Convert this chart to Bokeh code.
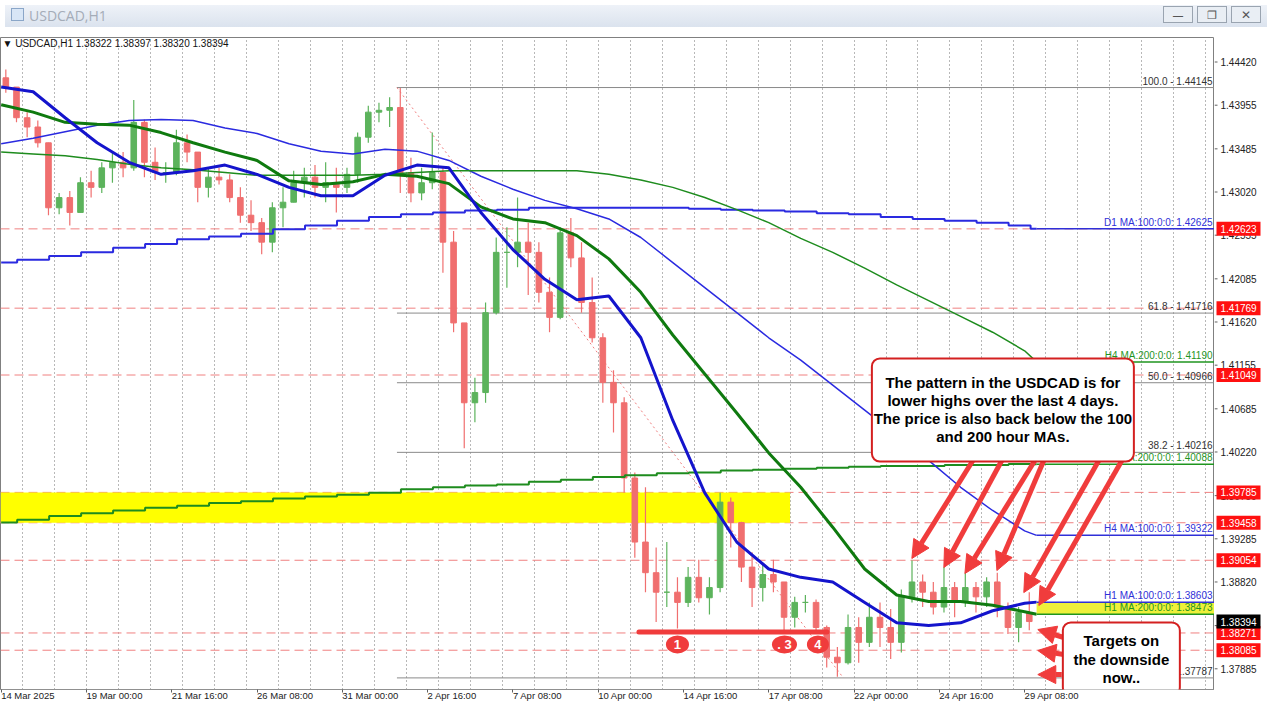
from bokeh.plotting import figure
from bokeh.models import (Range1d, FixedTicker, Span, BoxAnnotation,
                          Label, Arrow, NormalHead, Div, ColumnDataSource)
from bokeh.layouts import column, row
from bokeh.core.properties import value
from bokeh.embed import file_html
from bokeh.resources import INLINE

FONT = "Liberation Sans"

# ---------------- data (USDCAD H1, read in 8-hour blocks) ----------------
BLOCK = 8
first_open = 1.4425
high = [1.4434, 1.4415, 1.4388, 1.4379, 1.4355, 1.4301, 1.4303, 1.4318, 1.4325, 1.4334,
        1.4345, 1.4345, 1.4401, 1.4380, 1.4350, 1.4334, 1.4369, 1.4364, 1.4345, 1.4328,
        1.4328, 1.4321, 1.4307, 1.4293, 1.4274, 1.4291, 1.4307, 1.4325, 1.4328, 1.4331,
        1.4334, 1.4328, 1.4328, 1.4366, 1.4395, 1.4398, 1.4404, 1.4414, 1.4339, 1.4328,
        1.4366, 1.4328, 1.4260, 1.4161, 1.4102, 1.4183, 1.4253, 1.4264, 1.4296, 1.4269,
        1.4248, 1.4210, 1.4264, 1.4274, 1.4248, 1.4210, 1.4150, 1.4110, 1.4081, 1.4000,
        1.3984, 1.3919, 1.3925, 1.3887, 1.3898, 1.3906, 1.3887, 1.3978, 1.3973, 1.3947,
        1.3914, 1.3901, 1.3906, 1.3876, 1.3866, 1.3868, 1.3863, 1.3835, 1.3812, 1.3847,
        1.3844, 1.3860, 1.3860, 1.3853, 1.3874, 1.3905, 1.3890, 1.3882, 1.3898, 1.3882,
        1.3892, 1.3882, 1.3887, 1.3892, 1.3860, 1.3855, 1.3871]
low = [1.4409, 1.4377, 1.4361, 1.4350, 1.4277, 1.4278, 1.4266, 1.4280, 1.4296, 1.4301,
       1.4312, 1.4318, 1.4325, 1.4318, 1.4315, 1.4312, 1.4320, 1.4334, 1.4291, 1.4296,
       1.4310, 1.4291, 1.4269, 1.4260, 1.4235, 1.4237, 1.4264, 1.4291, 1.4296, 1.4296,
       1.4291, 1.4280, 1.4301, 1.4312, 1.4355, 1.4377, 1.4372, 1.4301, 1.4291, 1.4293,
       1.4305, 1.4215, 1.4151, 1.4026, 1.4054, 1.4075, 1.4170, 1.4199, 1.4221, 1.4191,
       1.4183, 1.4151, 1.4165, 1.4221, 1.4172, 1.4140, 1.4075, 1.4043, 1.3978, 1.3908,
       1.3871, 1.3839, 1.3855, 1.3832, 1.3855, 1.3860, 1.3847, 1.3871, 1.3919, 1.3882,
       1.3855, 1.3861, 1.3871, 1.3829, 1.3833, 1.3849, 1.3828, 1.3790, 1.3780, 1.3793,
       1.3795, 1.3812, 1.3812, 1.3799, 1.3806, 1.3860, 1.3855, 1.3847, 1.3849, 1.3844,
       1.3855, 1.3849, 1.3855, 1.3844, 1.3826, 1.3817, 1.3830]
close = [1.4415, 1.4382, 1.4372, 1.4355, 1.4285, 1.4296, 1.4280, 1.4312, 1.4307, 1.4328,
         1.4334, 1.4328, 1.4377, 1.4334, 1.4323, 1.4323, 1.4355, 1.4345, 1.4307, 1.4318,
         1.4315, 1.4296, 1.4277, 1.4269, 1.4248, 1.4285, 1.4291, 1.4312, 1.4318, 1.4307,
         1.4312, 1.4307, 1.4321, 1.4361, 1.4388, 1.4390, 1.4393, 1.4323, 1.4301, 1.4312,
         1.4323, 1.4248, 1.4161, 1.4075, 1.4086, 1.4172, 1.4237, 1.4237, 1.4248, 1.4237,
         1.4194, 1.4167, 1.4258, 1.4231, 1.4183, 1.4145, 1.4097, 1.4075, 1.3994, 1.3925,
         1.3892, 1.3871, 1.3871, 1.3860, 1.3887, 1.3865, 1.3876, 1.3968, 1.3946, 1.3898,
         1.3876, 1.3890, 1.3882, 1.3844, 1.3860, 1.3860, 1.3833, 1.3801, 1.3795, 1.3833,
         1.3817, 1.3844, 1.3833, 1.3817, 1.3866, 1.3882, 1.3871, 1.3855, 1.3876, 1.3860,
         1.3876, 1.3866, 1.3882, 1.3855, 1.3833, 1.3849, 1.38394]

# moving averages sampled every 24 bars (+ last bar)
ma_bars = [24 * j for j in range(33)] + [777]
ma_h1_100 = [1.4415, 1.4410, 1.4382, 1.4355, 1.4334, 1.4321, 1.4325, 1.4331, 1.4321, 1.4307,
             1.4298, 1.4298, 1.4320, 1.4331, 1.4328, 1.4280, 1.4240, 1.4208, 1.4186, 1.4190,
             1.4145, 1.4056, 1.3978, 1.3925, 1.3896, 1.3887, 1.3882, 1.3860, 1.3838, 1.3835,
             1.3838, 1.3851, 1.3859, 1.38603]
ma_h1_200 = [1.4396, 1.4388, 1.4377, 1.4375, 1.4374, 1.4366, 1.4355, 1.4345, 1.4336, 1.4314,
             1.4310, 1.4313, 1.4321, 1.4319, 1.4311, 1.4286, 1.4273, 1.4269, 1.4255, 1.4230,
             1.4194, 1.4148, 1.4106, 1.4064, 1.4021, 1.3984, 1.3941, 1.3896, 1.3868, 1.3861,
             1.3861, 1.3857, 1.3850, 1.38473]
ma_h4_100 = [1.4354, 1.4360, 1.4367, 1.4374, 1.4379, 1.4380, 1.4379, 1.4371, 1.4365, 1.4354,
             1.4346, 1.4343, 1.4348, 1.4346, 1.4336, 1.4319, 1.4305, 1.4293, 1.4284, 1.4273,
             1.4253, 1.4226, 1.4199, 1.4172, 1.4145, 1.4121, 1.4094, 1.4067, 1.4040, 1.4013,
             1.3984, 1.3959, 1.3937, 1.39322]
ma_h4_200 = [1.4345, 1.4343, 1.4341, 1.4337, 1.4332, 1.4328, 1.4326, 1.4323, 1.4320, 1.4320,
             1.4320, 1.4320, 1.4321, 1.4323, 1.4325, 1.4325, 1.4325, 1.4325, 1.4325, 1.4321,
             1.4315, 1.4307, 1.4296, 1.4283, 1.4269, 1.4252, 1.4237, 1.4220, 1.4202, 1.4185,
             1.4168, 1.4151, 1.4131, 1.41190]
ma_d1_100 = [1.4226, 1.4229, 1.4233, 1.4237, 1.4242, 1.4246, 1.4251, 1.4254, 1.4257, 1.4262,
             1.4266, 1.4271, 1.4275, 1.4278, 1.4280, 1.4282, 1.4283, 1.4285, 1.4285, 1.4285,
             1.4285, 1.4285, 1.4284, 1.4283, 1.4282, 1.4281, 1.4279, 1.4278, 1.4275, 1.4273,
             1.4271, 1.4269, 1.4266, 1.42625]
ma_d1_200 = [1.3946, 1.3949, 1.3953, 1.3956, 1.3959, 1.3962, 1.3964, 1.3967, 1.3969, 1.3972,
             1.3974, 1.3976, 1.3978, 1.3982, 1.3984, 1.3986, 1.3987, 1.3990, 1.3992, 1.3995,
             1.3997, 1.3999, 1.4000, 1.4002, 1.4003, 1.4004, 1.4005, 1.4006, 1.4007, 1.4007,
             1.4008, 1.4008, 1.4009, 1.40088]

ma_label_names = ["D1 MA:100:0:0: 1.42625", "H4 MA:200:0:0: 1.41190", "D1 MA:200:0:0: 1.40088",
                  "H4 MA:100:0:0: 1.39322", "H1 MA:100:0:0: 1.38603", "H1 MA:200:0:0: 1.38473"]
ma_label_values = [1.42625, 1.41190, 1.40088, 1.39322, 1.38603, 1.38473]
ma_label_colors = ["#3030d8", "#1f951f", "#1f951f", "#3030d8", "#3030d8", "#1f951f"]

price_levels = [1.42623, 1.41769, 1.41049, 1.39785, 1.39458, 1.39054, 1.38271, 1.38085]
last_price = 1.38394
bar_open, bar_high, bar_low, bar_close = 1.38322, 1.38397, 1.38320, 1.38394

fib_pct = ["100.0", "61.8", "50.0", "38.2", "0.0"]
fib_levels = [1.44145, 1.41716, 1.40966, 1.40216, 1.37787]
zone_top, zone_bottom = 1.39785, 1.39458

y_ticks = [1.44420, 1.43955, 1.43485, 1.43020, 1.42555, 1.42085, 1.41620, 1.41155,
           1.40685, 1.40220, 1.39750, 1.39285, 1.38820, 1.38350, 1.37885]
x_tick_labels = ["14 Mar 2025", "19 Mar 00:00", "21 Mar 16:00", "26 Mar 08:00", "31 Mar 00:00",
                 "2 Apr 16:00", "7 Apr 08:00", "10 Apr 00:00", "14 Apr 16:00", "17 Apr 08:00",
                 "22 Apr 00:00", "24 Apr 16:00", "29 Apr 08:00"]
x_tick_bars = [64 * i for i in range(len(x_tick_labels))]

note_main = ["The pattern in the USDCAD is for", "lower highs over the last 4 days.",
             "The price is also back below the 100", "and 200 hour MAs."]
note_targets = ["Targets on", "the downside", "now.."]
swing_labels = ["1", ". 3", "4"]

# ---------------- main price panel ----------------
X0, X1 = -0.5, 910.5
Y_RANGE = Range1d(1.37662, 1.44684)
FIG_H = 677
p = figure(width=1214, height=FIG_H, x_range=Range1d(X0, X1), y_range=Y_RANGE,
           output_backend="svg", toolbar_location=None, y_axis_location=None,
           min_border_left=0, min_border_right=0, min_border_top=5, min_border_bottom=20,
           background_fill_color="white", border_fill_color="white")
p.outline_line_color = "#808080"

p.xaxis.ticker = FixedTicker(ticks=x_tick_bars, minor_ticks=[])
p.xaxis.major_label_overrides = {b: t for b, t in zip(x_tick_bars, x_tick_labels)}
p.xaxis.major_label_orientation = -1e-6
p.xaxis.major_label_text_font = FONT
p.xaxis.major_label_text_font_size = "9.5px"
p.xaxis.major_label_text_color = "#222222"
p.xaxis.major_tick_out = 3
p.xaxis.major_tick_in = 0
p.xaxis.major_label_standoff = 3
p.xaxis.axis_line_color = "#909090"
p.xaxis.major_tick_line_color = "#606060"

p.ygrid.visible = False
p.xgrid.ticker = FixedTicker(ticks=[16 + 24 * k for k in range(38)], minor_ticks=[])
p.xgrid.grid_line_color = "#707070"
p.xgrid.grid_line_dash = "1 3"
p.xgrid.grid_line_width = 1

# yellow zone
p.quad(left=[X0], right=[592], top=[zone_top], bottom=[zone_bottom],
       fill_color="#ffff00", line_color=None)

# red dashed horizontal levels
for lv in price_levels:
    p.add_layout(Span(location=lv, dimension="width", line_color="#f08080",
                      line_dash="9 5", line_width=1, level="underlay"))

# fibonacci levels
FIB_START, FIB_END = 297, 632
for lv in fib_levels:
    p.segment(x0=[FIB_START], y0=[lv], x1=[X1], y1=[lv], line_color="#8a8a8a", line_width=1)
p.segment(x0=[FIB_START], y0=[fib_levels[0]], x1=[FIB_END], y1=[fib_levels[-1]],
          line_color="#f08080", line_dash="2 3", line_width=1)
p.text(x=[909] * len(fib_levels), y=fib_levels,
       text=[f"{a} - {b:.5f}" for a, b in zip(fib_pct, fib_levels)],
       text_font=value(FONT), text_font_size=value("10px"), text_color="#333333",
       text_align="right", text_baseline="bottom", y_offset=-1)

# candles
n = len(close)
opens = [first_open] + close[:-1]
xs = [BLOCK * k + (BLOCK - 1) / 2 for k in range(n)]
cols = ["#5cb35c" if c >= o else "#f06f6f" for o, c in zip(opens, close)]
src = ColumnDataSource(dict(x=xs, h=high, l=low,
                            top=[max(o, c) for o, c in zip(opens, close)],
                            bot=[min(o, c) for o, c in zip(opens, close)], col=cols))
p.segment("x", "h", "x", "l", source=src, line_color="col", line_width=1.2)
p.vbar("x", width=4.2, top="top", bottom="bot", source=src, fill_color="col", line_color="col")

# moving averages
p.step(ma_bars, ma_d1_100, mode="center", line_color="#2a2ae0", line_width=2)
p.step(ma_bars, ma_d1_200, mode="center", line_color="#1e8c1e", line_width=2)
p.line(ma_bars, ma_h4_100, line_color="#2a2ae0", line_width=1.5)
p.line(ma_bars, ma_h4_200, line_color="#1e8c1e", line_width=1.5)
p.line(ma_bars, ma_h1_200, line_color="#0f7a0f", line_width=3)
p.line(ma_bars, ma_h1_100, line_color="#1414cc", line_width=3)

# MA value labels on the right
last_bar = ma_bars[-1]
p.quad(left=[last_bar], right=[X1], top=[ma_label_values[4]], bottom=[ma_label_values[5]],
       fill_color="#eef03a", line_color=None)
for nm, v, c in zip(ma_label_names, ma_label_values, ma_label_colors):
    p.segment(x0=[last_bar], y0=[v], x1=[X1], y1=[v], line_color=c, line_width=1.5)
p.text(x=[909] * 6, y=ma_label_values, text=ma_label_names, text_color=ma_label_colors,
       text_font=value(FONT), text_font_size=value("10px"),
       text_align="right", text_baseline="bottom", y_offset=-1)

# swing low markers
ARC = "#f03c3c"
p.segment(x0=[478.6], y0=[1.38281], x1=[619.7], y1=[1.38281], line_color=ARC,
          line_width=5, line_cap="round")
sw_x = [507.5, 587.8, 612.9]
p.ellipse(x=sw_x, y=[1.38147] * 3, width=[17.3, 18.8, 16.5], height=[0.00194] * 3,
          fill_color=ARC, line_color=None)
p.text(x=sw_x, y=[1.38147] * 3, text=swing_labels, text_color="white",
       text_font=value(FONT), text_font_size=value("13px"), text_font_style="bold",
       text_align="center", text_baseline="middle")

# arrows
arrows = [(729.2, 1.40128, 683.4, 1.39073), (750.9, 1.40128, 707.4, 1.38976),
          (775.7, 1.40128, 723.2, 1.38911), (782.4, 1.40128, 747.2, 1.38943),
          (823.7, 1.40128, 767.4, 1.38706), (841.0, 1.40128, 778.7, 1.38567),
          (797.4, 1.38222, 777.9, 1.38308), (797.4, 1.38039, 777.9, 1.38082),
          (795.9, 1.37823, 777.9, 1.37823)]
for xs0, ys0, xe, ye in arrows:
    p.add_layout(Arrow(x_start=xs0, y_start=ys0, x_end=xe, y_end=ye, line_color=ARC,
                       line_width=5,
                       end=NormalHead(size=18, fill_color=ARC, line_color=ARC)))

# annotation boxes
p.add_layout(BoxAnnotation(left=653.4, right=850.0, top=1.41227, bottom=1.40117,
                           fill_color="white", fill_alpha=1, line_color="#d42020",
                           line_width=2, line_alpha=1, border_radius=8))
for t, yv in zip(note_main, [1.40968, 1.40774, 1.40580, 1.40386]):
    p.add_layout(Label(x=751.7, y=yv, text=t, text_align="center", text_baseline="middle",
                       text_font=FONT, text_font_size="15px", text_font_style="bold",
                       text_color="black"))
p.add_layout(BoxAnnotation(left=796.7, right=884.5, top=1.38384, bottom=1.3760,
                           fill_color="white", fill_alpha=1, line_color="#d42020",
                           line_width=2, line_alpha=1, border_radius=8))
for t, yv in zip(note_targets, [1.38190, 1.37986, 1.37792]):
    p.add_layout(Label(x=840.6, y=yv, text=t, text_align="center", text_baseline="middle",
                       text_font=FONT, text_font_size="15px", text_font_style="bold",
                       text_color="black"))

# chart header inside the window
p.add_layout(Label(x=1, y=1.4462,
                   text=f"\u25bc USDCAD,H1  {bar_open:.5f} {bar_high:.5f} {bar_low:.5f} {bar_close:.5f}",
                   text_font=FONT, text_font_size="10px", text_baseline="middle",
                   text_color="#111111"))

# ---------------- price scale panel (shares the price range) ----------------
SW = 48
s = figure(width=SW, height=FIG_H, x_range=Range1d(0, SW), y_range=Y_RANGE,
           output_backend="svg", toolbar_location=None,
           x_axis_location=None, y_axis_location=None,
           min_border_left=0, min_border_right=0, min_border_top=5, min_border_bottom=20,
           background_fill_color="white", border_fill_color="white")
s.outline_line_color = None
s.grid.visible = False
# tick marks and tick labels of the price scale
s.segment(x0=[0] * len(y_ticks), y0=y_ticks, x1=[3] * len(y_ticks), y1=y_ticks,
          line_color="#606060", line_width=1)
s.text(x=[6] * len(y_ticks), y=y_ticks, text=[f"{t:.5f}" for t in y_ticks],
       text_font=value(FONT), text_font_size=value("10px"), text_color="#222222",
       text_align="left", text_baseline="middle")
# price tags
s.rect(x=[24] * len(price_levels), y=price_levels, width=44, height=14,
       height_units="screen", fill_color="#ff1010", line_color=None)
s.text(x=[6] * len(price_levels), y=price_levels, text=[f"{v:.5f}" for v in price_levels],
       text_font=value(FONT), text_font_size=value("10px"), text_color="white",
       text_align="left", text_baseline="middle")
s.rect(x=[24], y=[last_price], width=44, height=14, height_units="screen",
       fill_color="black", line_color=None)
s.text(x=[6], y=[last_price], text=[f"{last_price:.5f}"],
       text_font=value(FONT), text_font_size=value("10px"), text_color="white",
       text_align="left", text_baseline="middle")

header = Div(text=(
    "<div style='position:relative;width:1262px;height:22px;"
    "background:linear-gradient(#eef2f8,#dbe3ee);font-family:\"Open Sans\",sans-serif;'>"
    "<span style='position:absolute;left:6px;top:3px;width:13px;height:13px;"
    "border:1px solid #8aa6c8;background:#d8e6f6;'></span>"
    "<span style='position:absolute;left:24px;top:1px;font-size:14px;color:#a4acb8;'>USDCAD,H1</span>"
    "<span style='position:absolute;left:1158px;top:1px;width:30px;height:17px;border:1px solid #9aa4b0;"
    "background:#e9eef4;font-size:11px;text-align:center;color:#555;line-height:15px;'>&#8212;</span>"
    "<span style='position:absolute;left:1192px;top:1px;width:30px;height:17px;border:1px solid #9aa4b0;"
    "background:#e9eef4;font-size:11px;text-align:center;color:#555;line-height:15px;'>&#10064;</span>"
    "<span style='position:absolute;left:1226px;top:1px;width:30px;height:17px;border:1px solid #9aa4b0;"
    "background:#e9eef4;font-size:12px;text-align:center;color:#555;line-height:15px;'>&#10005;</span>"
    "</div>"), width=1262, height=22)

layout = column(header, row(p, s, spacing=0), spacing=0)
open("out.html", "w").write(file_html(layout, INLINE))
